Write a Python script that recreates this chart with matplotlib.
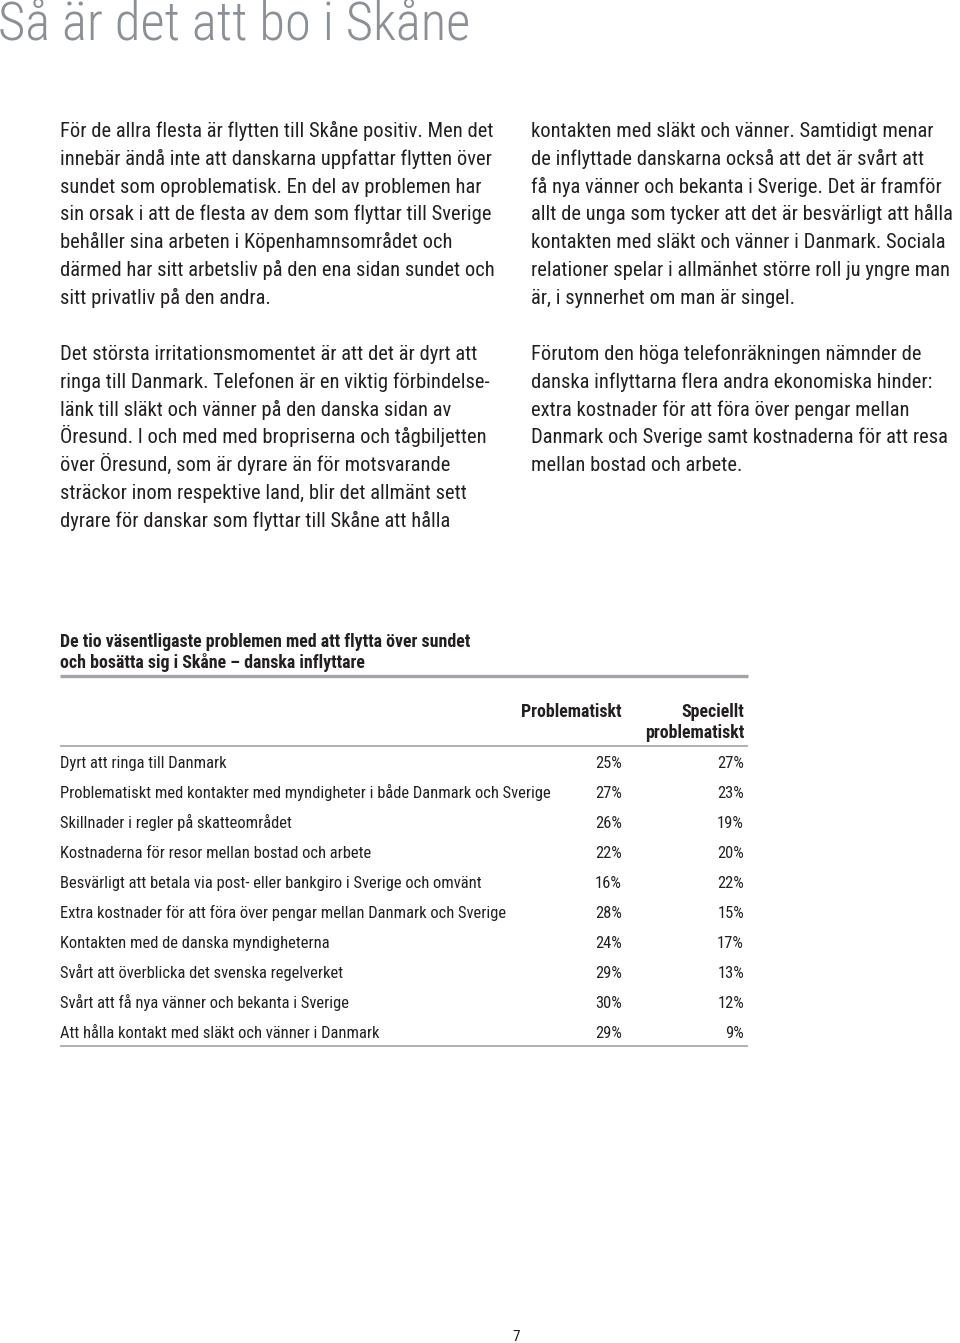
import matplotlib
matplotlib.use("Agg")
import matplotlib.pyplot as plt

plt.rcParams['font.family'] = ['Roboto Condensed', 'DejaVu Sans']

title = "Så är det att bo i Skåne"

left_p1 = [
    "För de allra flesta är flytten till Skåne positiv. Men det",
    "innebär ändå inte att danskarna uppfattar flytten över",
    "sundet som oproblematisk. En del av problemen har",
    "sin orsak i att de flesta av dem som flyttar till Sverige",
    "behåller sina arbeten i Köpenhamnsområdet och",
    "därmed har sitt arbetsliv på den ena sidan sundet och",
    "sitt privatliv på den andra.",
]
left_p2 = [
    "Det största irritationsmomentet är att det är dyrt att",
    "ringa till Danmark. Telefonen är en viktig förbindelse-",
    "länk till släkt och vänner på den danska sidan av",
    "Öresund. I och med med bropriserna och tågbiljetten",
    "över Öresund, som är dyrare än för motsvarande",
    "sträckor inom respektive land, blir det allmänt sett",
    "dyrare för danskar som flyttar till Skåne att hålla",
]
right_p1 = [
    "kontakten med släkt och vänner. Samtidigt menar",
    "de inflyttade danskarna också att det är svårt att",
    "få nya vänner och bekanta i Sverige. Det är framför",
    "allt de unga som tycker att det är besvärligt att hålla",
    "kontakten med släkt och vänner i Danmark. Sociala",
    "relationer spelar i allmänhet större roll ju yngre man",
    "är, i synnerhet om man är singel.",
]
right_p2 = [
    "Förutom den höga telefonräkningen nämnder de",
    "danska inflyttarna flera andra ekonomiska hinder:",
    "extra kostnader för att föra över pengar mellan",
    "Danmark och Sverige samt kostnaderna för att resa",
    "mellan bostad och arbete.",
]

table_title = ["De tio väsentligaste problemen med att flytta över sundet",
               "och bosätta sig i Skåne – danska inflyttare"]
col_headers = ["Problematiskt", "Speciellt", "problematiskt"]

problems = [
    "Dyrt att ringa till Danmark",
    "Problematiskt med kontakter med myndigheter i både Danmark och Sverige",
    "Skillnader i regler på skatteområdet",
    "Kostnaderna för resor mellan bostad och arbete",
    "Besvärligt att betala via post- eller bankgiro i Sverige och omvänt",
    "Extra kostnader för att föra över pengar mellan Danmark och Sverige",
    "Kontakten med de danska myndigheterna",
    "Svårt att överblicka det svenska regelverket",
    "Svårt att få nya vänner och bekanta i Sverige",
    "Att hålla kontakt med släkt och vänner i Danmark",
]
problematiskt = [25, 27, 26, 22, 16, 28, 24, 29, 30, 29]
speciellt = [27, 23, 19, 20, 22, 15, 17, 13, 12, 9]

page_number = "7"

txt = '#231f20'
fig = plt.figure(figsize=(9.6, 13.43), dpi=100)
ax = fig.add_axes([0, 0, 1, 1])
ax.set_xlim(0, 960)
ax.set_ylim(1343, 0)
ax.axis('off')

ax.text(-2, 40, title, fontsize=38, fontweight='light', color='#8a9096',
        va='baseline', ha='left')

# body text, baselines
line_h = 27.8
body = 14.8
for x0, y0, lines in [(60, 137, left_p1), (60, 360, left_p2),
                      (531, 137, right_p1), (531, 360, right_p2)]:
    for i, line in enumerate(lines):
        ax.text(x0, y0 + i * line_h, line, fontsize=body, color=txt,
                va='baseline', ha='left')

# table
hsize = 12.9
tsize = 11.9
for i, t in enumerate(table_title):
    ax.text(60, 647 + i * 21, t, fontsize=hsize, fontweight='bold', color=txt,
            va='baseline', ha='left')
ax.plot([60, 748], [676, 676], color='#a0a4a8', lw=2.4, solid_capstyle='butt')
ax.text(622, 717, col_headers[0], fontsize=hsize, fontweight='bold', color=txt,
        va='baseline', ha='right')
ax.text(744, 717, col_headers[1], fontsize=hsize, fontweight='bold', color=txt,
        va='baseline', ha='right')
ax.text(744, 738, col_headers[2], fontsize=hsize, fontweight='bold', color=txt,
        va='baseline', ha='right')
ax.plot([60, 748], [746, 746], color='#a0a4a8', lw=1.2, solid_capstyle='butt')

row0, row_h = 768, 30
for i, (name, a, b) in enumerate(zip(problems, problematiskt, speciellt)):
    y = row0 + i * row_h
    ax.text(60, y, name, fontsize=tsize, color=txt, va='baseline', ha='left')
    ax.text(622, y, f"{a}%", fontsize=tsize, color=txt, va='baseline', ha='right')
    ax.text(744, y, f"{b}%", fontsize=tsize, color=txt, va='baseline', ha='right')
ax.plot([60, 748], [1046, 1046], color='#a0a4a8', lw=1.2, solid_capstyle='butt')

ax.text(516, 1341, page_number, fontsize=11, color=txt, va='baseline', ha='center')

fig.savefig('out.png', dpi=100)
